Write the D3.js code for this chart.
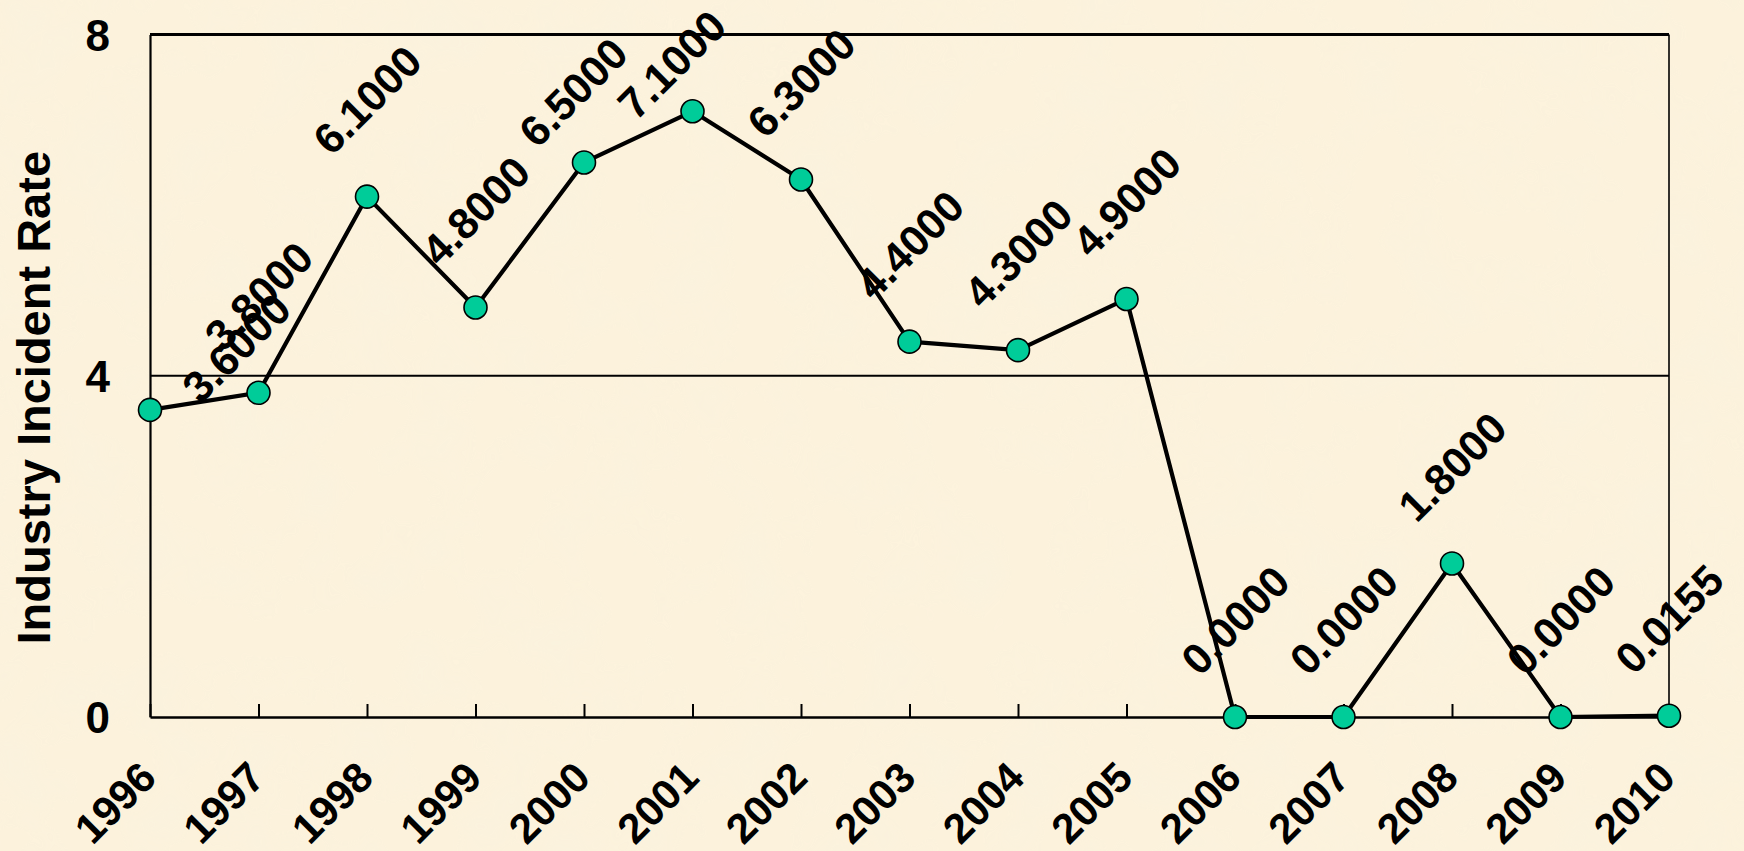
<!DOCTYPE html>
<html>
<head>
<meta charset="utf-8">
<script src="https://cdn.jsdelivr.net/npm/d3@7"></script>
<style>
  html, body { margin: 0; padding: 0; background: #fbf1d9; overflow: hidden; }
  svg { display: block; }
</style>
</head>
<body>
<svg id="chart"></svg>
<script>
const years = ["1996", "1997", "1998", "1999", "2000", "2001", "2002", "2003",
    "2004", "2005", "2006", "2007", "2008", "2009", "2010"];
const rates = [3.6, 3.8, 6.1, 4.8, 6.5, 7.1, 6.3, 4.4, 4.3, 4.9, 0, 0, 1.8, 0, 0.0155];
const yTicks = [0, 4, 8];
const yTitle = "Industry Incident Rate";

const width = 1744, height = 851;
const margin = { top: 34.5, right: 75, bottom: 134, left: 150 };
const font = "'Liberation Sans', Arial, sans-serif";

const svg = d3.select("#chart")
    .attr("width", width)
    .attr("height", height);

// paper texture background
const defs = svg.append("defs");
const filt = defs.append("filter").attr("id", "paper")
    .attr("x", 0).attr("y", 0).attr("width", "100%").attr("height", "100%");
filt.append("feTurbulence")
    .attr("type", "fractalNoise")
    .attr("baseFrequency", 0.015)
    .attr("numOctaves", 3)
    .attr("seed", 4);
filt.append("feColorMatrix")
    .attr("type", "matrix")
    .attr("values", "0 0 0 0 0.95  0 0 0 0 0.89  0 0 0 0 0.74  0 0 0 -1.4 0.85");
filt.append("feComposite").attr("in2", "SourceGraphic").attr("operator", "in");

svg.append("rect").attr("width", width).attr("height", height).attr("fill", "#fcf2dc");
svg.append("rect").attr("width", width).attr("height", height)
    .attr("fill", "#fcf2dc").attr("filter", "url(#paper)").attr("opacity", 0.75);

const x = d3.scalePoint()
    .domain(years)
    .range([margin.left, width - margin.right]);

const y = d3.scaleLinear()
    .domain([0, 8])
    .range([height - margin.bottom, margin.top]);

const x0 = x.range()[0], x1 = x.range()[1];
const y0 = y(0), yTop = y(8);

// gridlines at 4 and 8
svg.append("g")
    .selectAll("line")
    .data(yTicks.filter(d => d > 0))
    .join("line")
    .attr("x1", x0).attr("x2", x1)
    .attr("y1", d => y(d)).attr("y2", d => y(d))
    .attr("stroke", "#000")
    .attr("stroke-width", d => d === 8 ? 2.8 : 1.8);

// right border
svg.append("line")
    .attr("x1", x1).attr("x2", x1)
    .attr("y1", yTop).attr("y2", y0)
    .attr("stroke", "#000").attr("stroke-width", 1.6);

// y axis
const yAxis = svg.append("g")
    .attr("transform", `translate(${x0},0)`)
    .call(d3.axisLeft(y).tickValues(yTicks).tickSize(0).tickPadding(40).tickFormat(d3.format("d")));
yAxis.select(".domain").attr("stroke", "#000").attr("stroke-width", 2.2);
yAxis.selectAll("text")
    .attr("font-family", font)
    .attr("font-weight", "bold")
    .attr("font-size", 44)
    .attr("fill", "#000")
    .attr("dy", "0.36em");

// x axis, ticks pointing up into the plot
const xAxis = svg.append("g")
    .attr("transform", `translate(0,${y0})`)
    .call(d3.axisBottom(x).tickSizeInner(-13).tickSizeOuter(0));
xAxis.select(".domain").attr("stroke", "#000").attr("stroke-width", 2.4);
xAxis.selectAll(".tick line").attr("stroke", "#000").attr("stroke-width", 2);
xAxis.selectAll("text")
    .attr("font-family", font)
    .attr("font-weight", "bold")
    .attr("font-size", 42)
    .attr("fill", "#000")
    .attr("text-anchor", "end")
    .attr("x", 0).attr("y", 0).attr("dy", 0)
    .attr("transform", "translate(8,63) rotate(-45)");

// y title
svg.append("text")
    .attr("transform", `translate(50,${(yTop + y0) / 2 + 22}) rotate(-90)`)
    .attr("text-anchor", "middle")
    .attr("font-family", font)
    .attr("font-weight", "bold")
    .attr("font-size", 47)
    .attr("fill", "#000")
    .text(yTitle);

const pts = years.map((yr, i) => ({ year: yr, value: rates[i] }));

// data labels, rotated, nudged to stay inside the plot
const lblSize = 43;
const labels = svg.append("g")
    .attr("font-family", font)
    .attr("font-weight", "bold")
    .attr("font-size", lblSize)
    .attr("fill", "#000")
    .selectAll("text")
    .data(pts)
    .join("text")
    .attr("text-anchor", "middle")
    .attr("dy", "0.36em")
    .text(d => d.value.toFixed(4));

labels.each(function (d) {
    const len = this.getComputedTextLength();
    const half = (len + 0.72 * lblSize) / (2 * Math.SQRT2);
    const py = y(d.value);
    let cx = x(d.year), cy = py - 97;
    if (cy - half < 20) {
        const ny = Math.min(yTop + half, py - 47);
        cx -= (ny - cy) * 0.42;
        cy = ny;
    }
    const left = x0 - (cx - half);
    if (left > 0) { cx += left * 1.5; cy += left * 0.6; }
    d3.select(this).attr("transform", `translate(${cx},${cy}) rotate(-45)`);
});

// line
svg.append("path")
    .datum(pts)
    .attr("fill", "none")
    .attr("stroke", "#000")
    .attr("stroke-width", 4.2)
    .attr("stroke-linejoin", "round")
    .attr("d", d3.line().x(d => x(d.year)).y(d => y(d.value)));

// markers
svg.append("g")
    .selectAll("circle")
    .data(pts)
    .join("circle")
    .attr("cx", d => x(d.year))
    .attr("cy", d => y(d.value))
    .attr("r", 11.5)
    .attr("fill", "#00cc99")
    .attr("stroke", "#000")
    .attr("stroke-width", 1.6);
</script>
</body>
</html>
